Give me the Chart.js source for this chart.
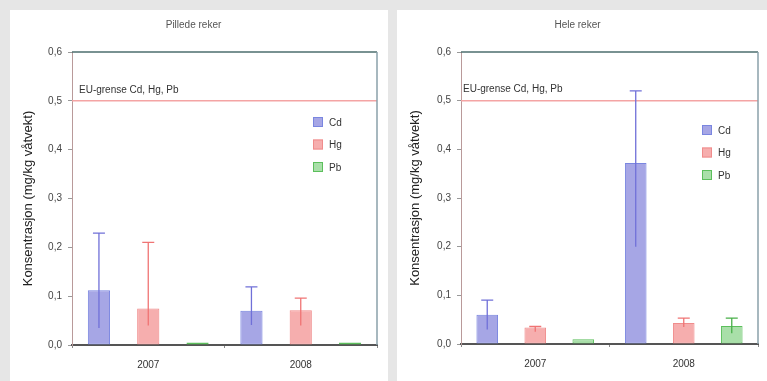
<!DOCTYPE html>
<html>
<head>
<meta charset="utf-8">
<script src="https://cdn.jsdelivr.net/npm/chart.js@4"></script>
<style>
  html, body { margin: 0; padding: 0; }
  body { width: 767px; height: 381px; background: #e6e6e6; position: relative; overflow: hidden; font-family: "Liberation Sans", Arial, sans-serif; }
  .panel { position: absolute; top: 10px; height: 371px; background: #fff; }
  #p1 { left: 10px; width: 378px; }
  #p2 { left: 397px; width: 370px; }
</style>
</head>
<body>
<div class="panel" id="p1"><canvas id="c1"></canvas></div>
<div class="panel" id="p2"><canvas id="c2"></canvas></div>
<script>
// data
const years = ['2007', '2008'];
const metals = ['Cd', 'Hg', 'Pb'];
const yTicks = [0, 0.1, 0.2, 0.3, 0.4, 0.5, 0.6];
const euLimit = 0.5;

// Pillede reker
const peeledCd = [0.112, 0.070];
const peeledHg = [0.075, 0.071];
const peeledPb = [0.005, 0.005];
const peeledCdHigh = [0.229, 0.119];
const peeledCdLow = [0.035, 0.041];
const peeledHgHigh = [0.210, 0.096];
const peeledHgLow = [0.040, 0.040];
const peeledPbHigh = [null, null];
const peeledPbLow = [null, null];

// Hele reker
const wholeCd = [0.060, 0.372];
const wholeHg = [0.034, 0.043];
const wholePb = [0.010, 0.037];
const wholeCdHigh = [0.090, 0.520];
const wholeCdLow = [0.030, 0.200];
const wholeHgHigh = [0.036, 0.053];
const wholeHgLow = [0.025, 0.035];
const wholePbHigh = [null, 0.053];
const wholePbLow = [null, 0.022];

const fills = ['rgba(150,150,225,0.85)', 'rgba(244,160,160,0.85)', 'rgba(160,220,160,0.9)'];
const borders = ['#7a86e0', '#f08c8c', '#5cbf5c'];
const errColors = ['#7070d8', '#f07474', '#48b048'];
const FONT = '"Liberation Sans", Arial, sans-serif';

// error bars, EU line, legend and plot frame
const extras = {
  id: 'extras',
  afterDatasetsDraw(chart, args, opts) {
    const { ctx, chartArea: a, scales } = chart;
    const y = scales.y;
    ctx.save();
    // EU-grense
    const yEu = y.getPixelForValue(euLimit);
    ctx.strokeStyle = '#f4a4a4';
    ctx.lineWidth = 1.5;
    ctx.beginPath(); ctx.moveTo(a.left, yEu); ctx.lineTo(a.right, yEu); ctx.stroke();
    ctx.fillStyle = '#333';
    ctx.font = '10px ' + FONT;
    ctx.textBaseline = 'middle';
    ctx.textAlign = 'left';
    ctx.fillText('EU-grense Cd, Hg, Pb', a.left + opts.euDx, yEu - 11);

    // error bars
    chart.data.datasets.forEach((ds, i) => {
      const meta = chart.getDatasetMeta(i);
      meta.data.forEach((bar, j) => {
        const hi = ds.errHigh[j], lo = ds.errLow[j];
        if (hi == null) return;
        const yHi = y.getPixelForValue(hi), yLo = y.getPixelForValue(lo);
        ctx.strokeStyle = errColors[i];
        ctx.lineWidth = 1.3;
        ctx.beginPath();
        ctx.moveTo(bar.x, yLo); ctx.lineTo(bar.x, yHi);
        ctx.moveTo(bar.x - 6, yHi); ctx.lineTo(bar.x + 6, yHi);
        ctx.stroke();
      });
    });

    // legend
    chart.data.datasets.forEach((ds, i) => {
      const lx = a.right - opts.legendRight, ly = a.top + opts.legendTop + i * 22.5;
      ctx.fillStyle = fills[i];
      ctx.fillRect(lx, ly - 5, 10, 10);
      ctx.strokeStyle = borders[i];
      ctx.lineWidth = 1;
      ctx.strokeRect(lx + 0.5, ly - 4.5, 9, 9);
      ctx.fillStyle = '#333';
      ctx.fillText(ds.label, lx + 16, ly + 1);
    });

    // frame: top and right
    ctx.lineWidth = 1.5;
    ctx.strokeStyle = '#4d6e6e';
    ctx.beginPath(); ctx.moveTo(a.left, a.top); ctx.lineTo(a.right, a.top); ctx.stroke();
    ctx.strokeStyle = '#8aa0aa';
    ctx.beginPath(); ctx.moveTo(a.right, a.top); ctx.lineTo(a.right, a.bottom); ctx.stroke();
    ctx.restore();
  }
};

function makeChart(id, title, vals, highs, lows, yWidth, xHeight, padRight, ext) {
  return new Chart(document.getElementById(id), {
    type: 'bar',
    data: {
      labels: years,
      datasets: metals.map((m, i) => ({
        label: m,
        data: vals[i],
        errHigh: highs[i],
        errLow: lows[i],
        backgroundColor: fills[i],
        borderColor: borders[i],
        borderWidth: 1,
        borderSkipped: false,
        barPercentage: 0.45,
        categoryPercentage: 0.97
      }))
    },
    options: {
      responsive: true,
      maintainAspectRatio: false,
      animation: false,
      layout: { padding: { left: 0, right: padRight, top: 0, bottom: 0 } },
      plugins: {
        legend: { display: false },
        tooltip: { enabled: false },
        title: {
          display: true,
          text: title,
          color: '#555',
          font: { size: 10, weight: 'normal', family: FONT },
          padding: { top: 9, bottom: 21 }
        },
        extras: ext
      },
      scales: {
        x: {
          afterFit: s => { s.height = xHeight; },
          grid: { drawOnChartArea: false, tickLength: 3, color: '#888' },
          border: { color: '#555', width: 2 },
          ticks: { color: '#333', padding: 11, font: { size: 10, family: FONT } }
        },
        y: {
          min: 0, max: 0.6,
          afterFit: s => { s.width = yWidth; },
          afterBuildTicks: s => { s.ticks = yTicks.map(v => ({ value: v })); },
          grid: { drawOnChartArea: false, tickLength: 4, color: '#999' },
          border: { color: '#b99a9a', width: 1 },
          ticks: {
            color: '#444',
            padding: 6,
            font: { size: 10, family: FONT },
            callback: v => v.toFixed(1).replace('.', ',')
          },
          title: {
            display: true,
            text: 'Konsentrasjon (mg/kg våtvekt)',
            color: '#222',
            padding: { top: ext.yTitlePad, bottom: 2 },
            font: { size: 13, family: FONT }
          }
        }
      }
    },
    plugins: [extras]
  });
}

makeChart('c1', 'Pillede reker',
  [peeledCd, peeledHg, peeledPb],
  [peeledCdHigh, peeledHgHigh, peeledPbHigh],
  [peeledCdLow, peeledHgLow, peeledPbLow],
  62, 36, 11, { euDx: 7, legendRight: 64, legendTop: 70, yTitlePad: 11 });

makeChart('c2', 'Hele reker',
  [wholeCd, wholeHg, wholePb],
  [wholeCdHigh, wholeHgHigh, wholePbHigh],
  [wholeCdLow, wholeHgLow, wholePbLow],
  64, 37, 9, { euDx: 2, legendRight: 56, legendTop: 78, yTitlePad: 11 });
</script>
</body>
</html>
